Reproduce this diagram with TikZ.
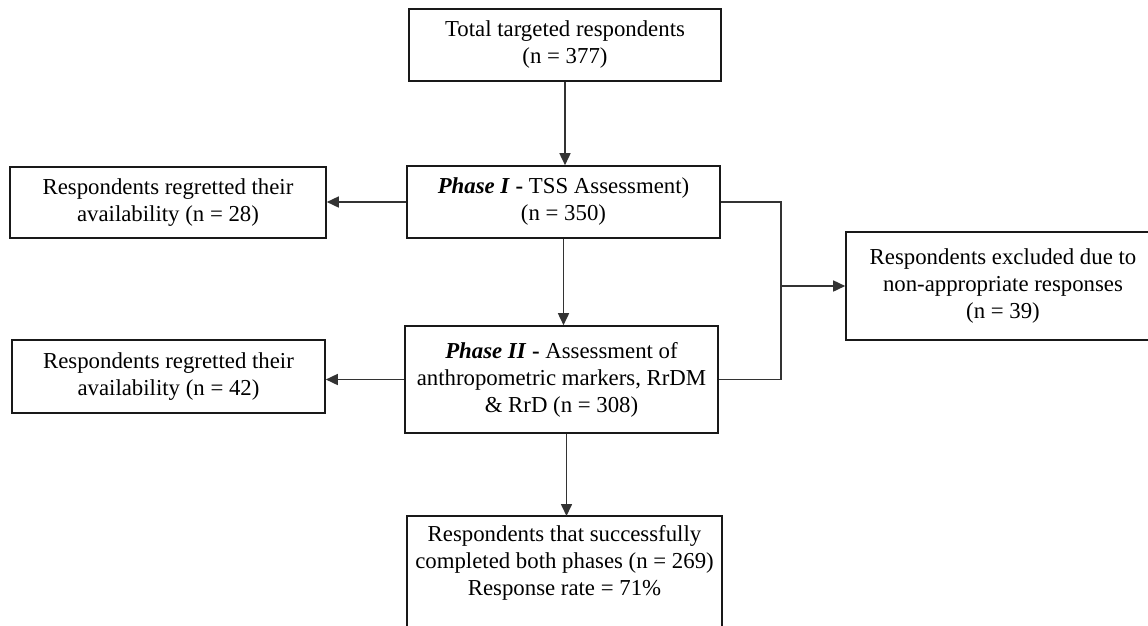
\documentclass[tikz,border=0pt]{standalone}
\usepackage{fontspec}
\setmainfont{Liberation Serif}
\usetikzlibrary{arrows.meta}
\begin{document}
\begin{tikzpicture}[x=1pt,y=-1pt,
  boxline/.style={draw=black!90, line width=1.6pt},
  box/.style={boxline, align=center, inner sep=0pt,
    font=\fontsize{22.8}{27}\selectfont},
  conn/.style={draw=black!80, line width=1.6pt},
  arr/.style={conn, -{Triangle[length=12pt,width=11pt]}}]
\useasboundingbox (0,0) rectangle (1148,625);
\clip (0,0) rectangle (1148,625);
\fill[white] (0,0) rectangle (1148,625);
\node[box, minimum width=312pt, minimum height=72pt] (top) at (565,45)
  {Total targeted respondents\\(n = 377)};
\node[box, minimum width=313pt, minimum height=72pt] (p1) at (563.5,202)
  {\textbf{\textit{Phase I}} \textbf{-} TSS Assessment)\\(n = 350)};
\node[box, minimum width=316pt, minimum height=71pt] (l1) at (168,202.5)
  {Respondents regretted their\\availability (n = 28)};
\node[box, minimum width=313pt, minimum height=107pt] (p2) at (561.5,379.5)
  {\textbf{\textit{Phase II}} \textbf{-} Assessment of\\anthropometric markers, RrDM\\\& RrD (n = 308)};
\node[box, minimum width=313pt, minimum height=73pt] (l2) at (168.5,376.5)
  {Respondents regretted their\\availability (n = 42)};
\node[box, minimum width=314pt, minimum height=108pt] (r) at (1003,286)
  {Respondents excluded due to\\non-appropriate responses\\(n = 39)};
\node[box, draw=none, minimum width=313pt, anchor=north, inner ysep=9pt] (b) at (564.5,516)
  {Respondents that successfully\\completed both phases (n = 269)\\Response rate = 71\%};
\draw[boxline] (b.north west) rectangle ([yshift=-40pt]b.south east);
\coordinate (jx) at (781,0);
\draw[arr] (top.south) -- (top.south |- p1.north);
\draw[arr] (p1.west) -- (l1.east |- p1.west);
\draw[arr] (p1.south) -- (p1.south |- p2.north);
\draw[arr] (p2.west) -- (l2.east |- p2.west);
\draw[arr] ([xshift=5pt]p2.south) -- ([xshift=5pt]p2.south |- b.north);
\draw[conn] (p1.east) -| (jx |- p2.east) -- (p2.east);
\draw[arr] (jx |- r.west) -- (r.west);
\end{tikzpicture}
\end{document}
